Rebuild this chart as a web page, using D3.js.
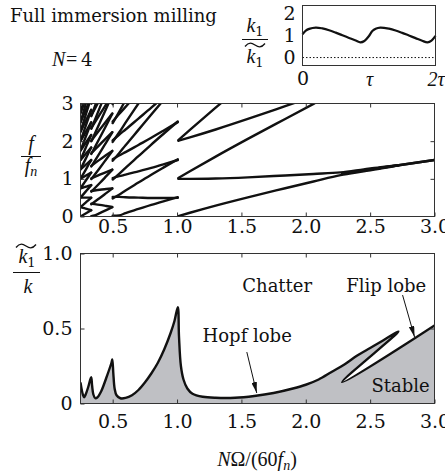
<!DOCTYPE html>
<html lang="en">
<head>
<meta charset="utf-8">
<title>Full immersion milling</title>
<script src="https://cdnjs.cloudflare.com/ajax/libs/d3/7.8.5/d3.min.js"></script>
<style>
  body { margin: 0; background: #fff; }
</style>
</head>
<body>
<div id="chart"></div>
<script>
// ---- data ----

// inset: k1 / k1~ over two tooth periods (t in units of tau)
var insetT = [0, 0.05, 0.1, 0.2, 0.3, 0.4, 0.5, 0.6, 0.7, 0.8, 0.87, 0.93, 1.0, 1.05, 1.1, 1.17, 1.3, 1.4, 1.5, 1.6, 1.7, 1.8, 1.88, 1.94, 2.0];
var insetK = [1.05, 1.22, 1.3, 1.36, 1.32, 1.24, 1.13, 1.01, 0.89, 0.77, 0.69, 0.75, 0.98, 1.2, 1.31, 1.36, 1.31, 1.23, 1.12, 1.0, 0.88, 0.76, 0.69, 0.77, 0.98];

// stability boundary k1~/k against N*Omega/(60 fn); the tail goes back down
// along the flip lobe (2.72 -> 2.28) and then up to 3.0
var stabX = [0.25, 0.26, 0.27, 0.278, 0.29, 0.31, 0.333, 0.34, 0.35, 0.365, 0.38, 0.41, 0.45, 0.49, 0.497, 0.505, 0.515, 0.53, 0.56, 0.6, 0.65, 0.7, 0.75, 0.8, 0.85, 0.9, 0.95, 0.98, 1.006, 1.015, 1.03, 1.05, 1.08, 1.12, 1.2, 1.3, 1.45, 1.6, 1.75, 1.9, 2.0, 2.1, 2.2, 2.3, 2.4, 2.5, 2.6, 2.72, 2.283, 3.0];
var stabY = [0.14, 0.09, 0.055, 0.042, 0.06, 0.11, 0.175, 0.12, 0.06, 0.035, 0.04, 0.08, 0.17, 0.27, 0.293, 0.2, 0.1, 0.055, 0.035, 0.037, 0.055, 0.09, 0.14, 0.2, 0.27, 0.36, 0.47, 0.55, 0.642, 0.45, 0.25, 0.16, 0.1, 0.065, 0.045, 0.038, 0.038, 0.05, 0.07, 0.1, 0.125, 0.16, 0.21, 0.26, 0.32, 0.37, 0.42, 0.48, 0.142, 0.52];

// chatter frequency f/fn inside each lobe; the curves drawn are its
// tooth passing aliases |j*x - fc| and j*x + fc
var lobe4X = [0.25, 0.27, 0.29, 0.31, 0.333];
var lobe4F = [1.0, 1.04, 1.08, 1.12, 1.167];
var lobe3X = [0.334, 0.36, 0.4, 0.45, 0.497];
var lobe3F = [1.01, 1.05, 1.11, 1.18, 1.245];
var lobe2X = [0.5, 0.55, 0.6, 0.7, 0.8, 0.9, 1.006];
var lobe2F = [1.02, 1.07, 1.11, 1.2, 1.29, 1.39, 1.5];
var lobe1X = [1.01, 1.1, 1.3, 1.55, 1.84, 2.06, 2.27, 2.45, 2.6, 2.68, 2.72];
var lobe1F = [1.0, 1.0, 1.01, 1.04, 1.09, 1.13, 1.17, 1.25, 1.317, 1.348, 1.36];
var flipX = [2.283, 3.0];
var flipF = [1.142, 1.5];
var harmonics = d3.range(0, 21);

// ticks
var xTicks = [0.5, 1, 1.5, 2, 2.5, 3];
var xTickLabels = ["0.5", "1.0", "1.5", "2.0", "2.5", "3.0"];
var fTicks = [0, 1, 2, 3];
var kTicks = [0, 0.5, 1];
var kTickLabels = ["0", "0.5", "1.0"];
var insetYTicks = [0, 1, 2];
var insetXTicks = [0, 1, 2];
var insetXLabels = ["0", "\u03c4", "2\u03c4"];

// annotations (lower panel, data coordinates)
var notes = [
  {text: "Chatter", x: 1.778, y: 0.743},
  {text: "Flip lobe", x: 2.625, y: 0.743},
  {text: "Hopf lobe", x: 1.545, y: 0.41},
  {text: "Stable", x: 2.736, y: 0.077}
];
var arrows = [
  {x1: 1.542, y1: 0.343, x2: 1.619, y2: 0.07},
  {x1: 2.752, y1: 0.723, x2: 2.845, y2: 0.443}
];

// ---- drawing ----
var serif = "'DejaVu Serif', serif";
var math = "'Liberation Serif', 'Times New Roman', serif";
var ink = "#111";

var svg = d3.select("#chart").append("svg")
    .attr("width", 445)
    .attr("height", 472);

var x = d3.scaleLinear().domain([0.25, 3]).range([80.5, 434.5]);
var yF = d3.scaleLinear().domain([0, 3]).range([216.5, 103.5]);
var yK = d3.scaleLinear().domain([0, 1]).range([403.5, 253.5]);
var xT = d3.scaleLinear().domain([0, 2]).range([302.5, 435.5]);
var yT = d3.scaleLinear().domain([-0.36, 2.36]).range([65.5, 5.5]);

var defs = svg.append("defs");
defs.append("clipPath").attr("id", "clipF").append("rect")
    .attr("x", x(0.25)).attr("y", yF(3))
    .attr("width", x(3) - x(0.25)).attr("height", yF(0) - yF(3));
defs.append("clipPath").attr("id", "clipK").append("rect")
    .attr("x", x(0.25)).attr("y", yK(1))
    .attr("width", x(3) - x(0.25)).attr("height", yK(0) - yK(1));
defs.append("marker").attr("id", "arrow")
    .attr("viewBox", "0 0 12 6").attr("refX", 12).attr("refY", 3)
    .attr("markerWidth", 11).attr("markerHeight", 5.5)
    .attr("markerUnits", "userSpaceOnUse").attr("orient", "auto")
  .append("path").attr("d", "M0,0 L12,3 L0,6 Z").attr("fill", ink);

function styleAxis(g) {
  g.select(".domain").remove();
  g.attr("font-family", serif).attr("font-size", 19);
  g.selectAll(".tick line").attr("stroke", "#333");
  g.selectAll(".tick text").attr("fill", ink);
}

function frame(x0, y0, x1, y1) {
  svg.append("rect")
      .attr("x", x0).attr("y", y0)
      .attr("width", x1 - x0).attr("height", y1 - y0)
      .attr("fill", "none").attr("stroke", "#333").attr("stroke-width", 1);
}

// ---------- title ----------
svg.append("text").attr("x", 10).attr("y", 22)
    .attr("font-family", serif).attr("font-size", 18).attr("fill", ink)
    .text("Full immersion milling");
svg.append("text").attr("x", 52).attr("y", 66)
    .attr("font-family", math).attr("font-size", 20).attr("font-style", "italic").attr("fill", ink)
    .text("N");
svg.append("text").attr("x", 66).attr("y", 66)
    .attr("font-family", math).attr("font-size", 20).attr("fill", ink)
    .text("=");
svg.append("text").attr("x", 81).attr("y", 66)
    .attr("font-family", serif).attr("font-size", 18).attr("fill", ink)
    .text("4");

// ---------- inset ----------
svg.append("line")
    .attr("x1", xT(0)).attr("x2", xT(2))
    .attr("y1", yT(0)).attr("y2", yT(0))
    .attr("stroke", ink).attr("stroke-width", 1).attr("stroke-dasharray", "1.5,2");

svg.append("path")
    .datum(insetT.map(function(t, i) { return [t, insetK[i]]; }))
    .attr("d", d3.line().x(function(d) { return xT(d[0]); }).y(function(d) { return yT(d[1]); })
        .curve(d3.curveCatmullRom.alpha(0.5)))
    .attr("fill", "none").attr("stroke", ink).attr("stroke-width", 2.2);

frame(xT(0), yT(2.36), xT(2), yT(-0.36));

var gi = svg.append("g").attr("transform", "translate(0," + yT(-0.36) + ")")
    .call(d3.axisBottom(xT).tickValues(insetXTicks)
        .tickFormat(function(d, i) { return insetXLabels[i]; })
        .tickSize(0).tickPadding(6));
styleAxis(gi);
gi.selectAll(".tick text").filter(function(d) { return d > 0; })
    .attr("font-family", math).attr("font-style", "italic").attr("font-size", 20);

var giy = svg.append("g").attr("transform", "translate(" + xT(0) + ",0)")
    .call(d3.axisLeft(yT).tickValues(insetYTicks).tickFormat(d3.format("d"))
        .tickSize(0).tickPadding(7));
styleAxis(giy);

// ---------- middle panel: chatter frequencies ----------
var lobes = [
  {x: lobe4X, f: lobe4F},
  {x: lobe3X, f: lobe3F},
  {x: lobe2X, f: lobe2F},
  {x: lobe1X, f: lobe1F},
  {x: flipX, f: flipF}
];
var freqLines = [];
lobes.forEach(function(lobe) {
  harmonics.forEach(function(j) {
    (j === 0 ? [1] : [-1, 1]).forEach(function(s) {
      var pts = lobe.x.map(function(v, i) { return [v, Math.abs(j * v + s * lobe.f[i])]; });
      if (d3.min(pts, function(p) { return p[1]; }) < 3.05) freqLines.push(pts);
    });
  });
});

var lineF = d3.line()
    .x(function(d) { return x(d[0]); })
    .y(function(d) { return yF(d[1]); })
    .curve(d3.curveMonotoneX);

svg.append("g").attr("clip-path", "url(#clipF)")
  .selectAll("path").data(freqLines).enter().append("path")
    .attr("d", lineF)
    .attr("fill", "none").attr("stroke", ink).attr("stroke-width", 2.4)
    .attr("stroke-linejoin", "round").attr("stroke-linecap", "round");

frame(x(0.25), yF(3), x(3), yF(0));

styleAxis(svg.append("g").attr("transform", "translate(0," + yF(0) + ")")
    .call(d3.axisBottom(x).tickValues(xTicks)
        .tickFormat(function(d, i) { return xTickLabels[i]; })
        .tickSizeInner(-4).tickSizeOuter(0).tickPadding(3)));
styleAxis(svg.append("g").attr("transform", "translate(0," + yF(3) + ")")
    .call(d3.axisTop(x).tickValues(xTicks.slice(0, 5)).tickFormat("")
        .tickSizeInner(-4).tickSizeOuter(0)));
styleAxis(svg.append("g").attr("transform", "translate(" + x(0.25) + ",0)")
    .call(d3.axisLeft(yF).tickValues(fTicks).tickFormat(d3.format("d"))
        .tickSizeInner(-4).tickSizeOuter(0).tickPadding(7)));
styleAxis(svg.append("g").attr("transform", "translate(" + x(3) + ",0)")
    .call(d3.axisRight(yF).tickValues([1, 2]).tickFormat("")
        .tickSizeInner(-4).tickSizeOuter(0)));

// f / f_n
svg.append("text").attr("x", 31).attr("y", 150).attr("text-anchor", "middle")
    .attr("font-family", math).attr("font-style", "italic").attr("font-size", 20).attr("fill", ink)
    .text("f");
svg.append("line").attr("x1", 21).attr("x2", 41).attr("y1", 156.5).attr("y2", 156.5)
    .attr("stroke", ink).attr("stroke-width", 1);
var fn = svg.append("text").attr("x", 31).attr("y", 172).attr("text-anchor", "middle")
    .attr("font-family", math).attr("font-style", "italic").attr("font-size", 20).attr("fill", ink);
fn.append("tspan").text("f");
fn.append("tspan").attr("font-size", 14).attr("dy", 4).text("n");

// ---------- lower panel: stability chart ----------
var stab = stabX.map(function(v, i) { return [v, stabY[i]]; });
var lineK = d3.line()
    .x(function(d) { return x(d[0]); })
    .y(function(d) { return yK(d[1]); })
    .curve(d3.curveCatmullRom.alpha(0.5));

var gk = svg.append("g").attr("clip-path", "url(#clipK)");
gk.append("path")
    .attr("d", lineK(stab) + "L" + x(3) + "," + yK(0) + "L" + x(0.25) + "," + yK(0) + "Z")
    .attr("fill", "#bfc0c4").attr("stroke", "none");
gk.append("path")
    .attr("d", lineK(stab))
    .attr("fill", "none").attr("stroke", ink).attr("stroke-width", 2.4)
    .attr("stroke-linejoin", "round");

frame(x(0.25), yK(1), x(3), yK(0));

styleAxis(svg.append("g").attr("transform", "translate(0," + yK(0) + ")")
    .call(d3.axisBottom(x).tickValues(xTicks)
        .tickFormat(function(d, i) { return xTickLabels[i]; })
        .tickSizeInner(-4).tickSizeOuter(0).tickPadding(11)));
styleAxis(svg.append("g").attr("transform", "translate(0," + yK(1) + ")")
    .call(d3.axisTop(x).tickValues(xTicks.slice(0, 5)).tickFormat("")
        .tickSizeInner(-4).tickSizeOuter(0)));
styleAxis(svg.append("g").attr("transform", "translate(" + x(0.25) + ",0)")
    .call(d3.axisLeft(yK).tickValues(kTicks)
        .tickFormat(function(d, i) { return kTickLabels[i]; })
        .tickSizeInner(-4).tickSizeOuter(0).tickPadding(8)));
styleAxis(svg.append("g").attr("transform", "translate(" + x(3) + ",0)")
    .call(d3.axisRight(yK).tickValues([0.5]).tickFormat("")
        .tickSizeInner(-4).tickSizeOuter(0)));

svg.selectAll("text.note").data(notes).enter().append("text")
    .attr("class", "note")
    .attr("x", function(d) { return x(d.x); })
    .attr("y", function(d) { return yK(d.y); })
    .attr("text-anchor", "middle")
    .attr("font-family", serif).attr("font-size", 18).attr("fill", ink)
    .text(function(d) { return d.text; });

svg.selectAll("line.arrow").data(arrows).enter().append("line")
    .attr("class", "arrow")
    .attr("x1", function(d) { return x(d.x1); })
    .attr("y1", function(d) { return yK(d.y1); })
    .attr("x2", function(d) { return x(d.x2); })
    .attr("y2", function(d) { return yK(d.y2); })
    .attr("stroke", ink).attr("stroke-width", 1)
    .attr("marker-end", "url(#arrow)");

// wide tilde used over k1
function tilde(cx, cy, w) {
  var x0 = cx - w / 2;
  return "M" + x0 + "," + (cy + 1.5) +
    " C" + (x0 + w * 0.2) + "," + (cy - 3.5) + " " + (x0 + w * 0.35) + "," + (cy - 2) + " " + cx + "," + cy +
    " S" + (x0 + w * 0.8) + "," + (cy + 3.5) + " " + (x0 + w) + "," + (cy - 1.5);
}

function kOne(cx, baseline) {
  var t = svg.append("text").attr("x", cx).attr("y", baseline).attr("text-anchor", "middle")
      .attr("font-family", math).attr("font-size", 20).attr("fill", ink);
  t.append("tspan").attr("font-style", "italic").text("k");
  t.append("tspan").attr("font-family", serif).attr("font-size", 13).attr("dy", 4).text("1");
}

// k1~ / k
svg.append("path").attr("d", tilde(26, 246, 20))
    .attr("fill", "none").attr("stroke", ink).attr("stroke-width", 1.3);
kOne(27, 263);
svg.append("line").attr("x1", 13).attr("x2", 40).attr("y1", 272.5).attr("y2", 272.5)
    .attr("stroke", ink).attr("stroke-width", 1);
svg.append("text").attr("x", 28).attr("y", 293).attr("text-anchor", "middle")
    .attr("font-family", math).attr("font-style", "italic").attr("font-size", 20).attr("fill", ink)
    .text("k");

// inset label k1 / k1~
kOne(255, 32);
svg.append("line").attr("x1", 242).attr("x2", 268).attr("y1", 39.5).attr("y2", 39.5)
    .attr("stroke", ink).attr("stroke-width", 1);
svg.append("path").attr("d", tilde(255, 45, 20))
    .attr("fill", "none").attr("stroke", ink).attr("stroke-width", 1.3);
kOne(255, 63);

// x title: N Omega / (60 f_n)
var xt = svg.append("text").attr("x", 257).attr("y", 466).attr("text-anchor", "middle")
    .attr("font-family", math).attr("font-size", 20).attr("fill", ink);
xt.append("tspan").attr("font-style", "italic").text("N");
xt.append("tspan").text("\u03a9/(60");
xt.append("tspan").attr("font-style", "italic").text("f");
xt.append("tspan").attr("font-style", "italic").attr("font-size", 14).attr("dy", 4).text("n");
xt.append("tspan").attr("dy", -4).text(")");
</script>
</body>
</html>
